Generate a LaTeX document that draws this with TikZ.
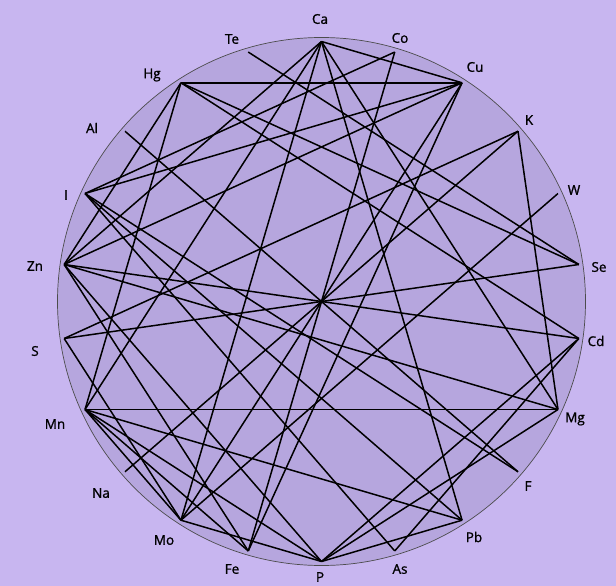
\documentclass[tikz,border=0pt]{standalone}
\usepackage{fontspec}
\setmainfont{Open Sans}
\newfontfamily\labfont[FakeBold=1.2]{Open Sans}
\definecolor{bgc}{RGB}{200,182,240}
\definecolor{disc}{RGB}{182,166,222}
\begin{document}
\begin{tikzpicture}[x=1pt,y=-1pt,
  chord/.style={line width=1.5pt, black},
  lab/.style={font=\labfont\fontsize{13.5}{15}\selectfont, text=black, inner sep=0pt}]
\useasboundingbox (0,0) rectangle (616,586);
\fill[bgc] (0,0) rectangle (616,586);
\coordinate (O) at (321.5,301.5);
\filldraw[fill=disc, draw=black!70, line width=0.7pt] (O) circle (264);
\foreach \n/\k in {Ca/0,Co/1,Cu/2,K/3,W/4,Se/5,Cd/6,Mg/7,F/8,Pb/9,As/10,P/11,Fe/12,Mo/13,Na/14,Mn/15,S/16,Zn/17,I/18,Al/19,Hg/20,Te/21}
  \coordinate (\n) at ({321.5+260*cos(90-\k*360/22)},{301.5-260*sin(90-\k*360/22)});
\node[lab] (lCa) at (320,19) {Ca};
\node[lab] (lTe) at (232,39) {Te};
\node[lab] (lCo) at (400,38) {Co};
\node[lab] (lCu) at (475,67) {Cu};
\node[lab] (lHg) at (152,75) {Hg};
\node[lab] (lK) at (529,120) {K};
\node[lab] (lAl) at (92,128) {Al};
\node[lab] (lW) at (574,190) {W};
\node[lab] (lI) at (66,195) {I};
\node[lab] (lZn) at (35,266) {Zn};
\node[lab] (lSe) at (599,267) {Se};
\node[lab] (lS) at (35,351) {S};
\node[lab] (lCd) at (596,341) {Cd};
\node[lab] (lMn) at (55,424) {Mn};
\node[lab] (lMg) at (575,419) {Mg};
\node[lab] (lNa) at (101,493) {Na};
\node[lab] (lF) at (528,486) {F};
\node[lab] (lMo) at (164,540) {Mo};
\node[lab] (lPb) at (474,537) {Pb};
\node[lab] (lFe) at (232,569) {Fe};
\node[lab] (lAs) at (400,569) {As};
\node[lab] (lP) at (320,577) {P};
\foreach \a/\b in {Hg/Cu,Ca/Cu,Te/Se,Hg/Se,Hg/Cd,Hg/Zn,Hg/Mn,Co/Fe,Co/I,Zn/Cd,S/Se,Cu/Mo,Zn/Cu,Ca/Mg,Ca/Pb,Ca/Mo,Ca/Mn,Ca/Zn,Mn/Mg,Al/F,Na/K,W/Mo,K/Mg,Cd/As,Zn/Mg,Mn/Fe,Mn/Mo,S/Mo,Mo/P,Zn/P,Zn/Fe,Cd/P,Mg/P,I/Pb,I/F,I/As,K/S,Cu/I,Cu/Fe,Mn/P,Mn/Pb,P/Pb}
  \draw[chord] (\a) -- (\b);
\end{tikzpicture}
\end{document}
